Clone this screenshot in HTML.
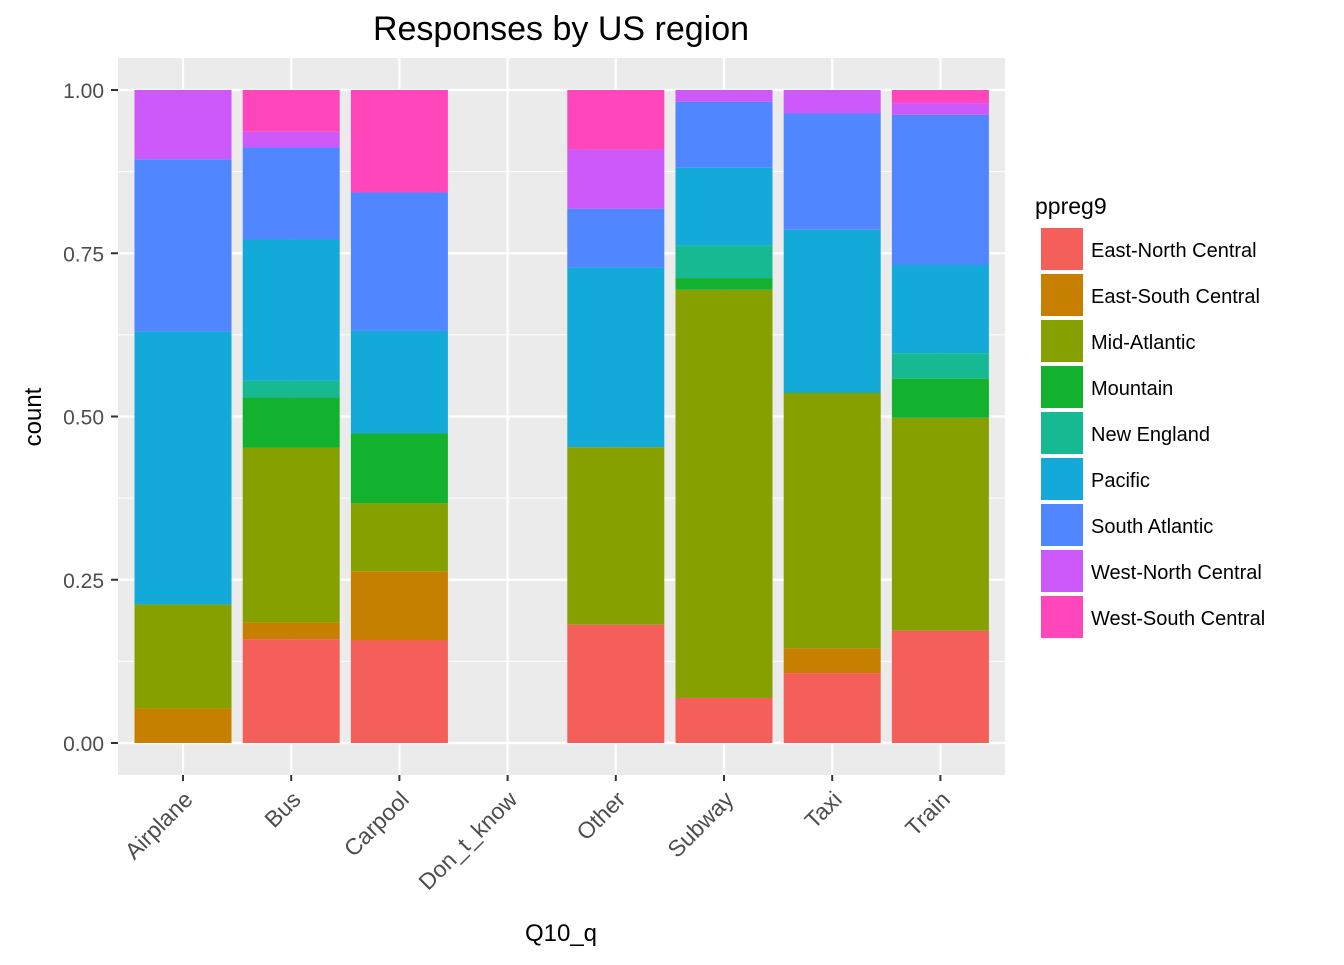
<!DOCTYPE html>
<html><head><meta charset="utf-8"><style>
body{margin:0;background:#fff}
svg text{font-family:"Liberation Sans",Arial,sans-serif}
</style></head><body>
<svg id="chart" width="1344" height="960" xmlns="http://www.w3.org/2000/svg">
<text x="561" y="40" font-size="34" text-anchor="middle" fill="#000">Responses by US region</text>
<rect x="118" y="58" width="887" height="717" fill="#EBEBEB"/>
<g id="grid"></g><g id="bars"></g><g id="axes"></g><g id="legend"></g>
<text x="41" y="417" font-size="24" text-anchor="middle" transform="rotate(-90 41 417)">count</text>
<text x="561" y="941" font-size="24" text-anchor="middle">Q10_q</text>
</svg>
<script>
const categories=["Airplane","Bus","Carpool","Don_t_know","Other","Subway","Taxi","Train"];
const regions=["East-North Central","East-South Central","Mid-Atlantic","Mountain","New England","Pacific","South Atlantic","West-North Central","West-South Central"];
const colors=["#F45F5A","#C77F00","#86A000","#12B22F","#17B992","#13AADA","#5086FF","#CD59FA","#FF46BA"];
const enc=[0,0.159,0.157,0,0.181,0.069,0.107,0.172];
const esc=[0.053,0.025,0.106,0,0,0,0.038,0];
const midAtl=[0.159,0.268,0.104,0,0.272,0.625,0.391,0.326];
const mountain=[0,0.077,0.107,0,0,0.018,0,0.060];
const newEng=[0,0.026,0,0,0,0.050,0,0.039];
const pacific=[0.418,0.216,0.157,0,0.275,0.119,0.250,0.135];
const southAtl=[0.264,0.141,0.212,0,0.090,0.101,0.178,0.230];
const wnc=[0.106,0.024,0,0,0.091,0.018,0.036,0.018];
const wsc=[0,0.064,0.157,0,0.091,0,0,0.020];
const series=[enc,esc,midAtl,mountain,newEng,pacific,southAtl,wnc,wsc];
const yTicks=[0,0.25,0.5,0.75,1];
const yTickLabels=["0.00","0.25","0.50","0.75","1.00"];
const NS="http://www.w3.org/2000/svg";
const y=v=>743-653*v;
const x=i=>183+i*108.2;
const bw=97;
function mk(tag,attrs,parent){const e=document.createElementNS(NS,tag);for(const k in attrs)e.setAttribute(k,attrs[k]);document.getElementById(parent).appendChild(e);return e;}
for(let i=0;i<4;i++){const v=(yTicks[i]+yTicks[i+1])/2;const l=mk('line',{x1:118,x2:1005,y1:y(v),y2:y(v),stroke:'#fff','stroke-width':1},'grid');

}
yTicks.forEach((v,i)=>{const l=mk('line',{x1:118,x2:1005,y1:y(v),y2:y(v),stroke:'#fff','stroke-width':2.2},'grid');


const t=mk('line',{x1:111,x2:118,y1:y(v),y2:y(v),stroke:'#333','stroke-width':2},'axes');


const tx=mk('text',{x:104,y:y(v)+8,'font-size':21,'text-anchor':'end',fill:'#4D4D4D'},'axes');tx.textContent=yTickLabels[i];

});
categories.forEach((c,i)=>{const l=mk('line',{x1:x(i),x2:x(i),y1:58,y2:775,stroke:'#fff','stroke-width':2.2},'grid');


const t=mk('line',{x1:x(i),x2:x(i),y1:775,y2:781,stroke:'#333','stroke-width':2},'axes');


const tx=mk('text',{x:x(i)+11,y:801,'font-size':23,'text-anchor':'end',fill:'#4D4D4D',transform:`rotate(-45 ${x(i)+11} 801)`},'axes');tx.textContent=c;


let tot=0;series.forEach(s=>tot+=s[i]);if(tot<=0)return;
let cum=0;series.forEach((s,k)=>{if(s[i]<=0)return;const v0=cum/tot,v1=(cum+s[i])/tot;cum+=s[i];
const r=mk('rect',{x:x(i)-bw/2,y:y(v1),width:bw,height:y(v0)-y(v1),fill:colors[k]},'bars');

});});
const lt=mk('text',{x:1035,y:214,'font-size':23},'legend');lt.textContent='ppreg9';


regions.forEach((r,k)=>{const yy=228+k*46;
const sw=mk('rect',{x:1041,y:yy,width:42,height:42,fill:colors[k]},'legend');


const t=mk('text',{x:1091,y:yy+29,'font-size':20},'legend');t.textContent=r;

});
</script>
</body></html>
